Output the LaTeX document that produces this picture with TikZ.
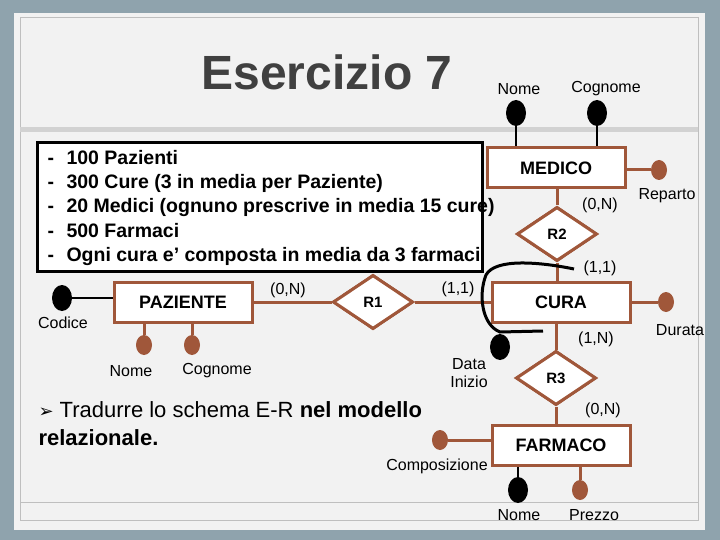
\documentclass[tikz,border=0pt]{standalone}
\usepackage{fontspec}
\setmainfont{Liberation Sans}
\newfontfamily\dejavu{DejaVu Sans}
\usetikzlibrary{shapes.geometric}
\definecolor{brn}{HTML}{A0573A}
\definecolor{outerbg}{HTML}{8FA3AD}
\definecolor{panel}{HTML}{F2F2F2}
\begin{document}
\begin{tikzpicture}[x=1pt,y=-1pt,
  ent/.style={draw=brn,line width=3pt,fill=white,minimum width=138pt,minimum height=40pt,font=\bfseries\fontsize{18}{20}\selectfont},
  rel/.style={diamond,draw=brn,line width=3pt,fill=white,minimum width=80pt,minimum height=54pt,inner sep=0pt,font=\bfseries\fontsize{15}{17}\selectfont},
  bdot/.style={ellipse,fill=black,minimum width=20pt,minimum height=26pt,inner sep=0pt},
  rdot/.style={ellipse,fill=brn,minimum width=16pt,minimum height=20pt,inner sep=0pt},
  lbl/.style={font=\fontsize{16}{18}\selectfont},
  bl/.style={line width=2pt},
  rl/.style={draw=brn,line width=3pt},
  btxt/.style={anchor=base west,font=\bfseries\fontsize{19.5}{22}\selectfont}]
\useasboundingbox (0,0) rectangle (720,540);
\fill[outerbg] (0,0) rectangle (720,540);
\fill[panel] (14,13) rectangle (705,530);
\draw[gray!50,line width=1pt] (20,18) rectangle (698,520);
\fill[gray!35] (20,127) rectangle (698,132);
\draw[gray!50,line width=1pt] (20,502) -- (698,502);
\node[text=black!75,font=\bfseries\fontsize{48}{52}\selectfont] (title) at (327,72) {Esercizio 7};
% text box
\node[draw=black,line width=3pt,fill=white,minimum width=445pt,minimum height=129pt,anchor=north west] (tb) at (36,141) {};
\foreach \y/\t [count=\i] in {165/100 Pazienti,189/300 Cure (3 in media per Paziente),213/20 Medici (ognuno prescrive in media 15 cure),237/500 Farmaci,261/Ogni cura e’ composta in media da 3 farmaci}{
  \node[btxt] (d\i) at (44,\y) {-};
  \node[btxt] (t\i) at (63,\y) {\t};
}
% connectors
\node[ent] (med) at (556,168) {MEDICO};
\node[ent] (cura) at (561,302) {CURA};
\node[ent] (paz) at (183,302) {PAZIENTE};
\node[ent] (far) at (561,445) {FARMACO};
\node[rel] (r2) at (557,234) {R2};
\node[rel] (r1) at (373,302) {R1};
\node[rel] (r3) at (556,378) {R3};
\draw[rl] (med.south -| r2.north) -- (r2.north);
\draw[rl] (r2.south) -- (r2.south |- cura.north);
\draw[rl] (paz.east) -- (r1.west);
\draw[rl] (r1.east) -- (cura.west);
\draw[rl] (r3.north) -- (r3.north |- cura.south);
\draw[rl] (r3.south) -- (r3.south |- far.north);
% redraw on top
\node[ent] at (556,168) {MEDICO};
\node[ent] at (561,302) {CURA};
\node[ent] at (183,302) {PAZIENTE};
\node[ent] at (561,445) {FARMACO};
\node[rel] at (557,234) {R2};
\node[rel] at (373,302) {R1};
\node[rel] at (556,378) {R3};
% attributes
\node[bdot] (mn) at (516,113) {};
\node[bdot] (mc) at (597,113) {};
\draw[bl] (mn) -- (mn |- med.north);
\draw[bl] (mc) -- (mc |- med.north);
\node[lbl] (mnl) at (519,89) {Nome};
\node[lbl] (mcl) at (606,89) {Cognome};
\node[rdot] (rep) at (659,170) {};
\draw[rl] (med.east |- rep) -- (rep);
\node[lbl] (repl) at (667,196) {Reparto};
\node[rdot] (dur) at (666,302) {};
\draw[rl] (cura.east) -- (dur);
\node[lbl] (durl) at (680,330) {Durata};
\node[bdot] (cod) at (62,298) {};
\draw[bl] (cod.east) -- (cod.east -| paz.west);
\node[lbl] (codl) at (63,323) {Codice};
\node[rdot] (pn) at (144,345) {};
\node[rdot] (pc) at (192,345) {};
\draw[rl] (pn) -- (pn |- paz.south);
\draw[rl] (pc) -- (pc |- paz.south);
\node[lbl] (pnl) at (131,371) {Nome};
\node[lbl] (pcl) at (217,371) {Cognome};
\node[bdot] (di) at (500,347) {};
\node[lbl,align=center] (dil) at (469,373) {Data\\Inizio};
\node[rdot] (comp) at (440,440) {};
\draw[rl] (comp.east) -- (comp.east -| far.west);
\node[lbl] (compl) at (437,466) {Composizione};
\node[bdot] (fn) at (518,490) {};
\node[rdot] (fp) at (580,490) {};
\draw[bl] (fn) -- (fn |- far.south);
\draw[rl] (fp) -- (fp |- far.south);
\node[lbl] (fnl) at (519,515) {Nome};
\node[lbl] (fpl) at (594,515) {Prezzo};
% cardinalities
\node[lbl] (c1) at (600,205) {(0,N)};
\node[lbl] (c2) at (600,268) {(1,1)};
\node[lbl] (c3) at (288,290) {(0,N)};
\node[lbl] (c4) at (458,289) {(1,1)};
\node[lbl] (c5) at (596,339) {(1,N)};
\node[lbl] (c6) at (603,410) {(0,N)};
% black curve
\coordinate (ka) at (574,269);
\coordinate (kb) at (543,331);
\draw[line width=3pt] (ka) .. controls (540,262) and (495,258) .. (486,275) .. controls (478,295) and (482,325) .. (500,332) -- (kb);
% instruction
\node[anchor=west,font=\fontsize{22}{24}\selectfont] (ins1) at (35,410) {{\dejavu\fontsize{18}{20}\selectfont ➢} Tradurre lo schema E-R \textbf{nel modello}};
\node[anchor=west,font=\bfseries\fontsize{22}{24}\selectfont] (ins2) at (35,438) {relazionale.};
\end{tikzpicture}
\end{document}
